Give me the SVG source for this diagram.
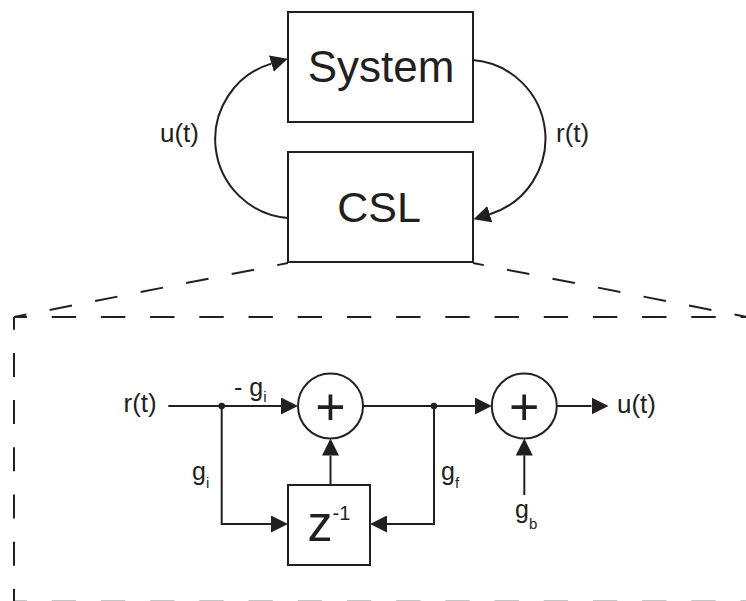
<svg xmlns="http://www.w3.org/2000/svg" width="746" height="601" viewBox="0 0 746 601">
<defs>
<style>
.ln{fill:none;stroke:#231f20;stroke-width:2}
.box{fill:#fff;stroke:#231f20;stroke-width:2}
.dh{fill:none;stroke:#231f20;stroke-width:2;stroke-dasharray:24.4 24.8;stroke-dashoffset:11.5}
.dv{fill:none;stroke:#231f20;stroke-width:2;stroke-dasharray:24 23.2;stroke-dashoffset:11.3}
.dd{fill:none;stroke:#231f20;stroke-width:2;stroke-dasharray:22.8 23.6;stroke-dashoffset:11.8}
.t{font-family:"Liberation Sans",Arial,sans-serif;fill:#231f20}
.dot{fill:#231f20}
</style>
<marker id="arr" viewBox="0 0 17 17" markerWidth="17" markerHeight="17" refX="0" refY="8.5" orient="auto" markerUnits="userSpaceOnUse">
<path d="M0,0 L17,8.5 L0,17 Z" fill="#231f20"/>
</marker>
</defs>
<rect width="746" height="601" fill="#fff"/>

<g id="zoom-frame">
<path class="dd" d="M288,263 L14,317"/>
<path class="dd" d="M473,263 L747,317"/>
<path class="dh" d="M14,317 H746"/>
<path class="dv" d="M14,317 V601"/>
<path class="dh" d="M14,601.8 H746"/>
</g>

<g id="connectors">
<path class="ln" d="M288,218 A79,79 0 0 1 271.4,63.6" marker-end="url(#arr)"/>
<path class="ln" d="M473,60 A79,79 0 0 1 489.8,214.2" marker-end="url(#arr)"/>
<path class="ln" d="M168.3,406 H281" marker-end="url(#arr)"/>
<path class="ln" d="M221.7,406 V524 H271" marker-end="url(#arr)"/>
<path class="ln" d="M363,406 H474.8" marker-end="url(#arr)"/>
<path class="ln" d="M434,406 V524 H387" marker-end="url(#arr)"/>
<path class="ln" d="M330.5,485 V455.5" marker-end="url(#arr)"/>
<path class="ln" d="M524.3,495 V455.5" marker-end="url(#arr)"/>
<path class="ln" d="M556.8,406 H591.5" marker-end="url(#arr)"/>
<circle class="dot" cx="221.7" cy="406" r="3.3"/>
<circle class="dot" cx="434" cy="406" r="3.3"/>
<text class="t" x="199" y="142" font-size="26" text-anchor="end">u(t)</text>
<text class="t" x="556" y="142" font-size="26">r(t)</text>
<text class="t" x="123.5" y="412" font-size="26">r(t)</text>
<text class="t" x="617" y="413" font-size="26">u(t)</text>
<text class="t" x="234" y="396" font-size="25">- g<tspan font-size="15" dy="6">i</tspan></text>
<text class="t" x="192" y="479.5" font-size="25">g<tspan font-size="15" dy="8.5">i</tspan></text>
<text class="t" x="441" y="479.5" font-size="25">g<tspan font-size="15" dy="8.5">f</tspan></text>
<text class="t" x="515" y="518" font-size="25">g<tspan font-size="15" dy="11">b</tspan></text>
</g>

<g id="system">
<rect class="box" x="288" y="12" width="185" height="110"/>
<text class="t" x="381" y="82" font-size="44" text-anchor="middle">System</text>
</g>

<g id="csl">
<rect class="box" x="288" y="152" width="185" height="110"/>
<text class="t" x="379" y="222" font-size="43" text-anchor="middle">CSL</text>
</g>

<g id="sum1">
<circle class="box" cx="330.5" cy="406" r="32.5"/>
<text class="t" x="330.5" y="424.5" font-size="52" text-anchor="middle">+</text>
</g>

<g id="sum2">
<circle class="box" cx="524.3" cy="406" r="32.5"/>
<text class="t" x="524.3" y="424.5" font-size="52" text-anchor="middle">+</text>
</g>

<g id="delay">
<rect class="box" x="288" y="485" width="82" height="80"/>
<text class="t" x="329" y="541" font-size="50" text-anchor="middle">z<tspan font-size="20" dy="-21">-1</tspan></text>
</g>
</svg>
